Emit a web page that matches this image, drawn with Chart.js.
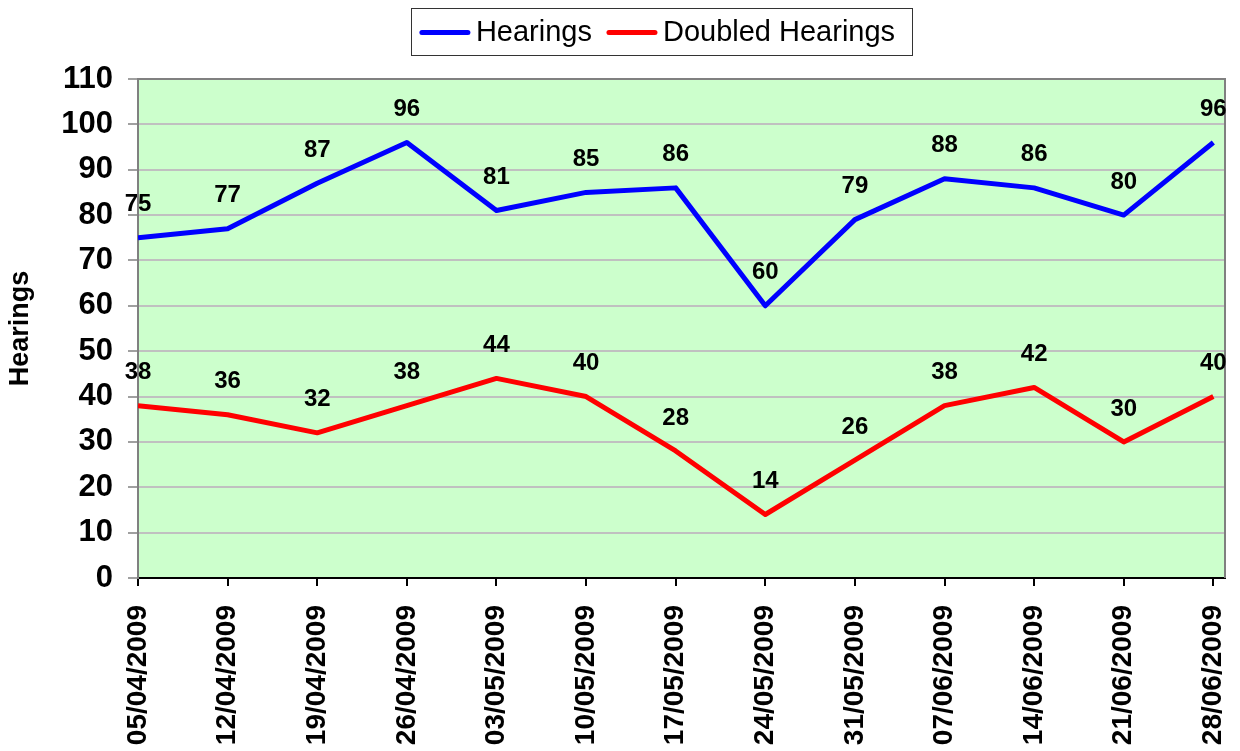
<!DOCTYPE html>
<html>
<head>
<meta charset="utf-8">
<script src="https://cdn.jsdelivr.net/npm/chart.js@4/dist/chart.umd.min.js"></script>
<style>
  html, body { margin: 0; padding: 0; background: #fff; }
  #chartCanvas { display: block; }
</style>
</head>
<body>
<canvas id="chartCanvas" width="1240" height="751"></canvas>
<script>
// week labels along the bottom
const weeks = ['05/04/2009', '12/04/2009', '19/04/2009', '26/04/2009', '03/05/2009', '10/05/2009',
    '17/05/2009', '24/05/2009', '31/05/2009', '07/06/2009', '14/06/2009', '21/06/2009', '28/06/2009'];

const hearings = [75, 77, 87, 96, 81, 85, 86, 60, 79, 88, 86, 80, 96];
const doubledHearings = [38, 36, 32, 38, 44, 40, 28, 14, 26, 38, 42, 30, 40];

const yTicks = [0, 10, 20, 30, 40, 50, 60, 70, 80, 90, 100, 110];

const FONT = '"Liberation Sans", Arial, sans-serif';

function toPoints(values) {
    return values.map((v, i) => ({x: i, y: v}));
}

// green plot background plus the grey frame on top and right
const plotArea = {
    id: 'plotArea',
    beforeDraw(chart) {
        const {ctx, chartArea: a} = chart;
        ctx.save();
        ctx.fillStyle = '#ccffcc';
        ctx.fillRect(a.left, a.top, a.right - a.left, a.bottom - a.top);
        ctx.restore();
    },
    afterDatasetsDraw(chart) {
        const {ctx, chartArea: a} = chart;
        ctx.save();
        ctx.strokeStyle = '#808080';
        ctx.lineWidth = 2;
        ctx.beginPath();
        ctx.moveTo(a.left, a.top);
        ctx.lineTo(a.right, a.top);
        ctx.lineTo(a.right, a.bottom);
        ctx.stroke();
        ctx.restore();
    }
};

// value written above every point
const valueLabels = {
    id: 'valueLabels',
    afterDatasetsDraw(chart) {
        const ctx = chart.ctx;
        ctx.save();
        ctx.font = 'bold 24px ' + FONT;
        ctx.fillStyle = '#000';
        ctx.textAlign = 'center';
        ctx.textBaseline = 'middle';
        chart.data.datasets.forEach((ds, di) => {
            const meta = chart.getDatasetMeta(di);
            meta.data.forEach((pt, i) => {
                ctx.fillText(String(ds.data[i].y), pt.x, pt.y - 33);
            });
        });
        ctx.restore();
    }
};

// boxed legend at the top, like the spreadsheet one
const boxLegend = {
    id: 'boxLegend',
    afterDraw(chart) {
        const {ctx, chartArea: a} = chart;
        ctx.save();
        ctx.font = '29px ' + FONT;
        const lineLen = 50, gap = 6, itemGap = 15, padL = 9, padR = 17;
        const items = chart.data.datasets.map(ds => ({
            label: ds.label, color: ds.borderColor, w: ctx.measureText(ds.label).width
        }));
        let total = padL + padR;
        items.forEach((it, i) => {
            total += lineLen + gap + it.w;
            if (i > 0) total += itemGap;
        });
        const top = 8, h = 47;
        let x = (a.left + a.right) / 2 - 20 - total / 2;
        ctx.strokeStyle = '#333';
        ctx.lineWidth = 1;
        ctx.strokeRect(Math.round(x) + 0.5, top + 0.5, Math.round(total), h);
        const cy = top + h / 2 + 1;
        x += padL;
        items.forEach(it => {
            ctx.strokeStyle = it.color;
            ctx.lineWidth = 5;
            ctx.lineCap = 'round';
            ctx.beginPath();
            ctx.moveTo(x + 2, cy);
            ctx.lineTo(x + lineLen - 2, cy);
            ctx.stroke();
            x += lineLen + gap;
            ctx.fillStyle = '#000';
            ctx.textBaseline = 'middle';
            ctx.fillText(it.label, x, cy);
            x += it.w + itemGap;
        });
        ctx.restore();
    }
};

const ctx = document.getElementById('chartCanvas').getContext('2d');

new Chart(ctx, {
    type: 'line',
    data: {
        datasets: [
            {
                label: 'Hearings',
                data: toPoints(hearings),
                borderColor: '#0000ff',
                borderWidth: 5,
                pointRadius: 0,
                tension: 0,
                borderJoinStyle: 'round'
            },
            {
                label: 'Doubled Hearings',
                data: toPoints(doubledHearings),
                borderColor: '#ff0000',
                borderWidth: 5,
                pointRadius: 0,
                tension: 0,
                borderJoinStyle: 'round'
            }
        ]
    },
    options: {
        responsive: false,
        animation: false,
        layout: {padding: {top: 79, right: 15, left: 0, bottom: 0}},
        plugins: {
            legend: {display: false},
            tooltip: {enabled: false}
        },
        scales: {
            x: {
                type: 'linear',
                min: 0,
                max: 12.13,
                afterBuildTicks: scale => {
                    scale.ticks = weeks.map((w, i) => ({value: i}));
                },
                afterFit: scale => {
                    scale.height = 173;
                    scale.paddingLeft = 0;
                    scale.paddingRight = 0;
                },
                grid: {
                    drawOnChartArea: false,
                    tickColor: '#000',
                    tickLength: 8,
                    lineWidth: 2
                },
                border: {color: '#000', width: 2},
                ticks: {
                    autoSkip: false,
                    minRotation: 90,
                    maxRotation: 90,
                    padding: 19,
                    color: '#000',
                    font: {family: FONT, size: 28, weight: 'bold'},
                    callback: v => weeks[v]
                }
            },
            y: {
                min: 0,
                max: 110,
                afterBuildTicks: scale => {
                    scale.ticks = yTicks.map(v => ({value: v}));
                },
                afterFit: scale => {
                    scale.width = 138;
                    scale.paddingTop = 0;
                    scale.paddingBottom = 0;
                },
                grid: {
                    color: '#c0c0c0',
                    lineWidth: 2,
                    tickColor: '#a0a0a0',
                    tickLength: 10
                },
                border: {color: '#808080', width: 2},
                ticks: {
                    padding: 15,
                    color: '#000',
                    font: {family: FONT, size: 31, weight: 'bold'}
                },
                title: {
                    display: true,
                    text: 'Hearings',
                    color: '#000',
                    padding: {top: 4, bottom: 0},
                    font: {family: FONT, size: 27, weight: 'bold'}
                }
            }
        }
    },
    plugins: [plotArea, valueLabels, boxLegend]
});
</script>
</body>
</html>
